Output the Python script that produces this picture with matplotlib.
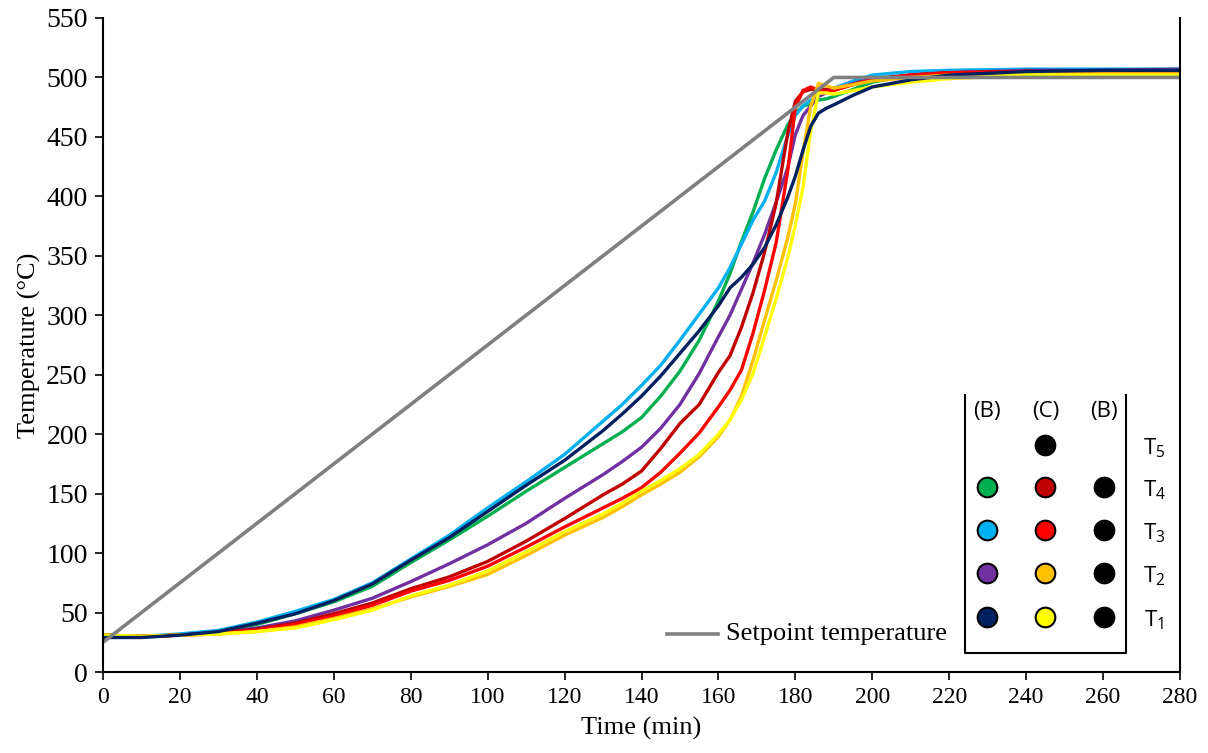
import matplotlib
matplotlib.use("Agg")
import matplotlib.pyplot as plt

# time grid (min)
time_min = [0, 10, 20, 30, 40, 50, 60, 70, 80, 90, 100, 110, 120, 130, 135, 140, 145, 150,
            155, 160, 163, 166, 169, 172, 175, 178, 180, 182, 184, 186, 188, 190,
            195, 200, 210, 220, 240, 260, 280]

# (B) column sensors
b_t4 = [31, 30, 31, 34, 40, 49, 59, 72, 92, 111, 131, 152, 172, 192, 202, 214, 232, 253,
        279, 312, 335, 362, 387, 415, 439, 460, 470, 476, 478, 481, 482, 484,
        490, 496, 502, 504, 505, 505, 505]
b_t3 = [31, 30, 32, 35, 42, 51, 61, 75, 95, 115, 138, 160, 183, 211, 225, 241, 258, 279,
        301, 323, 340, 360, 380, 396, 420, 451, 468, 476, 481, 485, 488, 491,
        497, 502, 505, 506, 507, 507, 507]
b_t2 = [31, 30, 31, 33, 37, 43, 52, 62, 76, 91, 107, 125, 146, 166, 177, 189, 205, 225,
        251, 282, 300, 322, 344, 368, 395, 424, 452, 468, 476, 484, 487, 490,
        495, 499, 502, 504, 506, 506, 507]
b_t1 = [29, 29, 31, 34, 41, 49, 60, 74, 94, 113, 135, 157, 178, 203, 217, 232, 249, 268,
        287, 308, 323, 332, 343, 357, 376, 399, 417, 439, 459, 470, 474, 477,
        485, 492, 498, 502, 505, 506, 506]

# (C) column sensors
c_t4 = [31, 30, 31, 33, 36, 41, 49, 58, 70, 80, 93, 110, 129, 149, 158, 169, 188, 209,
        225, 252, 266, 290, 319, 353, 394, 453, 480, 488, 490, 490, 490, 490,
        494, 498, 502, 504, 505, 505, 505]
c_t3 = [31, 30, 31, 32, 35, 40, 47, 56, 68, 77, 89, 105, 122, 138, 146, 155, 168, 184,
        201, 223, 237, 254, 285, 321, 361, 421, 475, 489, 492, 489, 488, 489,
        494, 498, 502, 504, 505, 505, 505]
c_t2 = [31, 30, 31, 32, 34, 38, 45, 53, 63, 72, 82, 98, 115, 130, 139, 149, 158, 168,
        181, 198, 212, 232, 262, 296, 329, 365, 394, 437, 476, 495, 493, 491,
        494, 497, 500, 502, 503, 503, 503]
c_t1 = [31, 30, 31, 32, 34, 37, 44, 52, 64, 73, 85, 101, 118, 133, 142, 152, 161, 171,
        183, 200, 212, 229, 251, 282, 314, 348, 376, 408, 455, 487, 487, 486,
        489, 492, 496, 499, 502, 502, 502]

setpoint_time = [0, 190, 280]
setpoint_temp = [25, 500, 500]

series = [
    (b_t4, "#00B050"), (b_t3, "#00B0F0"), (b_t2, "#7030A0"),
    (c_t4, "#C00000"), (c_t3, "#FF0000"), (c_t2, "#FFC000"), (c_t1, "#FFFF00"),
    (b_t1, "#002060"),
]

serif = ["Liberation Serif", "DejaVu Serif"]
sans = ["Open Sans", "DejaVu Sans"]
plt.rcParams["mathtext.fontset"] = "custom"
plt.rcParams["mathtext.rm"] = "Open Sans"

fig = plt.figure(figsize=(12.08, 7.53), dpi=100)
ax = fig.add_axes([103 / 1208, 81 / 753, 1077 / 1208, 654 / 753])

for vals, col in series:
    ax.plot(time_min, vals, color=col, lw=2.4, solid_joinstyle="round")
ax.plot(setpoint_time, setpoint_temp, color="#808080", lw=2.6)

ax.set_xlim(0, 280)
ax.set_ylim(0, 550)
ax.set_xticks(range(0, 281, 20))
ax.set_yticks(range(0, 551, 50))
ax.spines["top"].set_visible(False)
for s in ["left", "bottom", "right"]:
    ax.spines[s].set_linewidth(1.5)
    ax.spines[s].set_color("black")
ax.tick_params(direction="out", length=6, width=1.2, pad=5)
ax.tick_params(axis="x", labelsize=17)
ax.tick_params(axis="y", labelsize=20)
for lab in ax.get_xticklabels() + ax.get_yticklabels():
    lab.set_family(serif)
ax.set_xlabel("Time (min)", fontsize=19, family=serif, labelpad=6)
ax.set_ylabel("Temperature (\u00b0C)", fontsize=19, family=serif, labelpad=4)

# setpoint legend entry
ax.plot([0.524, 0.571], [0.058, 0.058], color="#808080", lw=2.6, transform=ax.transAxes)
ax.text(0.578, 0.058, "Setpoint temperature", transform=ax.transAxes,
        fontsize=19, family=serif, va="center", ha="left")

# sensor location legend (open-top box)
tr = ax.transAxes
ax.plot([0.800, 0.800, 0.950, 0.950], [0.424, 0.029, 0.029, 0.424],
        color="black", lw=1.5, transform=tr, clip_on=False)
cols_x = [0.821, 0.875, 0.929]
rows_y = [0.347, 0.283, 0.217, 0.151, 0.084]
for x, h in zip(cols_x, ["(B)", "(C)", "(B)"]):
    ax.text(x, 0.398, h, transform=tr, fontsize=16, family=sans, ha="center", va="center")
left_cols = ["#00B050", "#00B0F0", "#7030A0", "#002060"]
mid_cols = ["#000000", "#C00000", "#FF0000", "#FFC000", "#FFFF00"]
for i, y in enumerate(rows_y):
    if i > 0:
        ax.scatter(cols_x[0], y, s=200, color=left_cols[i - 1], edgecolor="black",
                   lw=1.5, transform=tr, zorder=5, clip_on=False)
        ax.scatter(cols_x[2], y, s=200, color="black", edgecolor="black",
                   lw=1.5, transform=tr, zorder=5, clip_on=False)
    ax.scatter(cols_x[1], y, s=200, color=mid_cols[i], edgecolor="black",
               lw=1.5, transform=tr, zorder=5, clip_on=False)
    ax.text(0.976, y - 0.005, r"T$_{\mathregular{%d}}$" % (5 - i), transform=tr,
            fontsize=16, family=sans, ha="center", va="center")

fig.savefig("out.png", dpi=100)
